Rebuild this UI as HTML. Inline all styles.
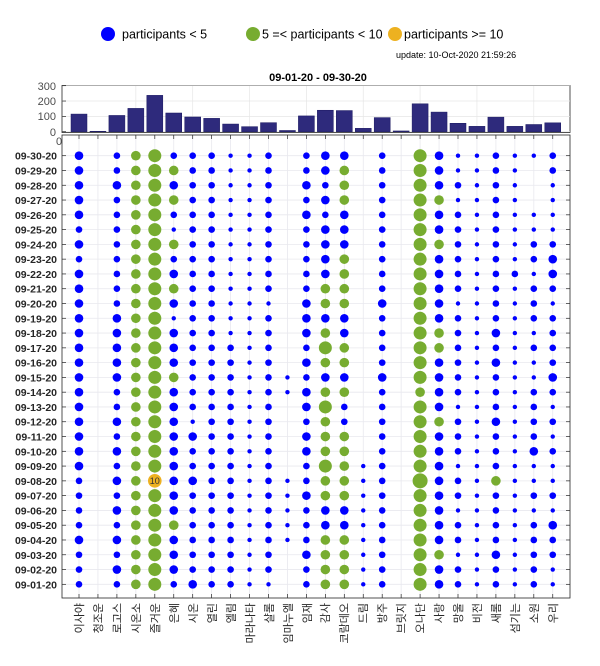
<!DOCTYPE html>
<html><head><meta charset="utf-8"><style>
html,body{margin:0;padding:0;background:#fff;}
svg{display:block;font-family:"Liberation Sans","Noto Sans CJK KR",sans-serif;}
</style></head><body>
<svg id="s" width="600" height="666" viewBox="0 0 600 666">
<rect width="600" height="666" fill="#fff"/>
<!-- legend -->
<circle cx="108" cy="34" r="7" fill="#0000ff"/>
<text x="122" y="38.5" font-size="12.5" fill="#000">participants &lt; 5</text>
<circle cx="253" cy="34" r="7" fill="#77ac30"/>
<text x="262" y="38.5" font-size="12.5" fill="#000">5 =&lt; participants &lt; 10</text>
<circle cx="395" cy="34" r="7" fill="#edb120"/>
<text x="404" y="38.5" font-size="12.5" fill="#000">participants &gt;= 10</text>
<text x="396" y="58" font-size="9" fill="#000">update: 10-Oct-2020 21:59:26</text>
<text x="318" y="81" font-size="11" font-weight="bold" text-anchor="middle" fill="#000">09-01-20 - 09-30-20</text>
<!-- bar axes -->
<g id="bars"></g>
<g font-size="11" fill="#4d4d4d" text-anchor="end">
<text x="56" y="90">300</text><text x="56" y="105">200</text><text x="56" y="120">100</text><text x="56" y="136">0</text>
</g>
<text x="59" y="145" font-size="11" fill="#4d4d4d" text-anchor="middle">0</text>
<!-- dot axes -->
<rect x="62" y="135" width="508" height="463" fill="#fff"/>
<g id="grid"></g>
<g id="dots"></g>
<rect x="62" y="135" width="508" height="463" fill="none" stroke="#262626" stroke-width="0.8"/>
<text x="154.8" y="484" font-size="9" text-anchor="middle" fill="#333">10</text>
<g font-size="10.5" font-weight="bold" fill="#262626" text-anchor="end">
<text x="57" y="159.7">09-30-20</text><text x="57" y="174.5">09-29-20</text><text x="57" y="189.3">09-28-20</text><text x="57" y="204.0">09-27-20</text><text x="57" y="218.8">09-26-20</text><text x="57" y="233.6">09-25-20</text><text x="57" y="248.4">09-24-20</text><text x="57" y="263.2">09-23-20</text><text x="57" y="277.9">09-22-20</text><text x="57" y="292.7">09-21-20</text><text x="57" y="307.5">09-20-20</text><text x="57" y="322.3">09-19-20</text><text x="57" y="337.1">09-18-20</text><text x="57" y="351.8">09-17-20</text><text x="57" y="366.6">09-16-20</text><text x="57" y="381.4">09-15-20</text><text x="57" y="396.2">09-14-20</text><text x="57" y="411.0">09-13-20</text><text x="57" y="425.7">09-12-20</text><text x="57" y="440.5">09-11-20</text><text x="57" y="455.3">09-10-20</text><text x="57" y="470.1">09-09-20</text><text x="57" y="484.9">09-08-20</text><text x="57" y="499.6">09-07-20</text><text x="57" y="514.4">09-06-20</text><text x="57" y="529.2">09-05-20</text><text x="57" y="544.0">09-04-20</text><text x="57" y="558.8">09-03-20</text><text x="57" y="573.5">09-02-20</text><text x="57" y="588.3">09-01-20</text>
</g>
<g font-size="11" fill="#262626" text-anchor="end">
<text transform="translate(83,603) rotate(-90)">이사야</text>
<text transform="translate(102,603) rotate(-90)">청조운</text>
<text transform="translate(121,603) rotate(-90)">로고스</text>
<text transform="translate(140,603) rotate(-90)">시온소</text>
<text transform="translate(159,603) rotate(-90)">즐거운</text>
<text transform="translate(178,603) rotate(-90)">은혜</text>
<text transform="translate(197,603) rotate(-90)">시온</text>
<text transform="translate(216,603) rotate(-90)">열린</text>
<text transform="translate(235,603) rotate(-90)">엘림</text>
<text transform="translate(254,603) rotate(-90)">마라나타</text>
<text transform="translate(273,603) rotate(-90)">샬롬</text>
<text transform="translate(292,603) rotate(-90)">임마누엘</text>
<text transform="translate(311,603) rotate(-90)">임재</text>
<text transform="translate(329,603) rotate(-90)">감사</text>
<text transform="translate(348,603) rotate(-90)">코람데오</text>
<text transform="translate(367,603) rotate(-90)">드림</text>
<text transform="translate(386,603) rotate(-90)">방주</text>
<text transform="translate(405,603) rotate(-90)">브릿지</text>
<text transform="translate(424,603) rotate(-90)">오나단</text>
<text transform="translate(443,603) rotate(-90)">사랑</text>
<text transform="translate(462,603) rotate(-90)">망울</text>
<text transform="translate(481,603) rotate(-90)">비전</text>
<text transform="translate(500,603) rotate(-90)">새롬</text>
<text transform="translate(519,603) rotate(-90)">섬기는</text>
<text transform="translate(538,603) rotate(-90)">소원</text>
<text transform="translate(557,603) rotate(-90)">우리</text>
</g>
</svg>
<script>
var NS="http://www.w3.org/2000/svg";
function el(p,t,a){var e=document.createElementNS(NS,t);for(var k in a)e.setAttribute(k,a[k]);p.appendChild(e);return e;}
function cx(i){return 79+18.95*i;}
function ry(r){return 155.7+14.78*r;}
var bv=[115,3,106,152,237,122,96,87,50,33,59,8,103,140,138,22,92,5,182,128,55,35,95,35,47,58];
var B=document.getElementById("bars");
el(B,"rect",{x:62,y:85.5,width:508,height:47,fill:"#fff",stroke:"#262626","stroke-width":0.8});
for(var i=1;i<26;i++){if(i%3==0)el(B,"line",{x1:cx(i),x2:cx(i),y1:86,y2:132,stroke:"#e6e6e6","stroke-width":0.7});}
[0,100,200,300].forEach(function(v){var y=131.7-v*46/300;el(B,"line",{x1:62,x2:570,y1:y,y2:y,stroke:"#e6e6e6","stroke-width":0.7});el(B,"line",{x1:62,x2:66,y1:y,y2:y,stroke:"#262626","stroke-width":0.7});});
for(var i=0;i<26;i++){var h=bv[i]*46/300;el(B,"rect",{x:cx(i)-8,y:131.7-h,width:16,height:h,fill:"#2e2a7c",stroke:"#1a1860","stroke-width":0.5});}
var G=document.getElementById("grid");
for(var i=0;i<26;i++){el(G,"line",{x1:cx(i),x2:cx(i),y1:135,y2:598,stroke:"#e8e8ee","stroke-width":0.8});el(G,"line",{x1:cx(i),x2:cx(i),y1:594,y2:598,stroke:"#262626","stroke-width":0.7});el(G,"line",{x1:cx(i),x2:cx(i),y1:135,y2:139,stroke:"#262626","stroke-width":0.7});}
for(var r=0;r<30;r++){var y=ry(r);el(G,"line",{x1:62,x2:570,y1:y,y2:y,stroke:"#e8e8ee","stroke-width":0.8});el(G,"line",{x1:62,x2:66,y1:y,y2:y,stroke:"#262626","stroke-width":0.7});el(G,"line",{x1:566,x2:570,y1:y,y2:y,stroke:"#262626","stroke-width":0.7});}
var rows=[
"b.mgGmmmssm.mbb.m.Gbssmssm","b.mgGgmmssm.mbg.m.Gbssms.m","b.bgGbmmssm.bmg.m.Gbmsms.s","b.mgGgmmssm.mbg.m.Ggssms.s",
"b.mgGmmmssm.bmb.m.Gbmsmsss","m.mgGsmmssm.mbb.m.Gbmsmsss","b.mgGgmmssm.mbb.m.Ggmsmsmm","m.mgGmmmssm.mbg.m.Gbmsmsmb",
"b.mgGbmmssm.mbg.m.Gbmsmmsb","b.mgGgmmssm.mgg.m.Gbmsmsmm","b.mgGbmmsss.bgg.b.Gbssmsms","b.bgGsmmssm.bbb.m.Gbmsmsmm",
"b.bgGbmmssm.bgb.m.Ggmsbssm","b.bgGbmmmsm.mGg.m.Ggmsmsmm","b.bgGbmmmsm.bgg.m.Gbmsbssm","b.bgGgmmmsmsmbb.b.Gbmsmssb",
"b.mgGbmmmsmsbgg.m.gbmsmsmm","b.mgGbmmmsm.bGm.m.Gbssmsms","b.bgGbsmmsm.mgm.m.Ggmsbsmm","b.mgGbbmmsm.bgg.m.Gbmsmsms",
"b.bgGbmmmsm.bgg.m.Gbmsmsbm","b.mgGbmmmsm.mGgsm.Gbssmsss","m.bgObbmmsmsmggsm.Hbmsgsss","m.mgGbmmmsmsbggsm.Gbmsmsmm",
"m.bgGbmmmsmsmbbsm.Gbssmsss","m.mgGgmmmsmsmbbsm.Gbmsmsmb","b.bgGbmmmsmsmggsm.Gbmsmsmm","m.mgGbmmmsm.bggsm.Ggssbsmm",
"m.bgGbmmmsm.mggsm.Gbmsmsms","m.mgGmbmmss.mggsm.Gbmsmsms"];
var R={s:[2.2,"#0000ff"],m:[3.3,"#0000ff"],b:[4.3,"#0000ff"],g:[4.8,"#77ac30"],G:[6.5,"#77ac30"],H:[7.5,"#77ac30"],O:[6.8,"#edb120"]};
var D=document.getElementById("dots");
for(var r=0;r<30;r++)for(var i=0;i<26;i++){var c=rows[r][i];if(R[c])el(D,"circle",{cx:cx(i),cy:ry(r),r:R[c][0],fill:R[c][1]});}
</script>
</body></html>
